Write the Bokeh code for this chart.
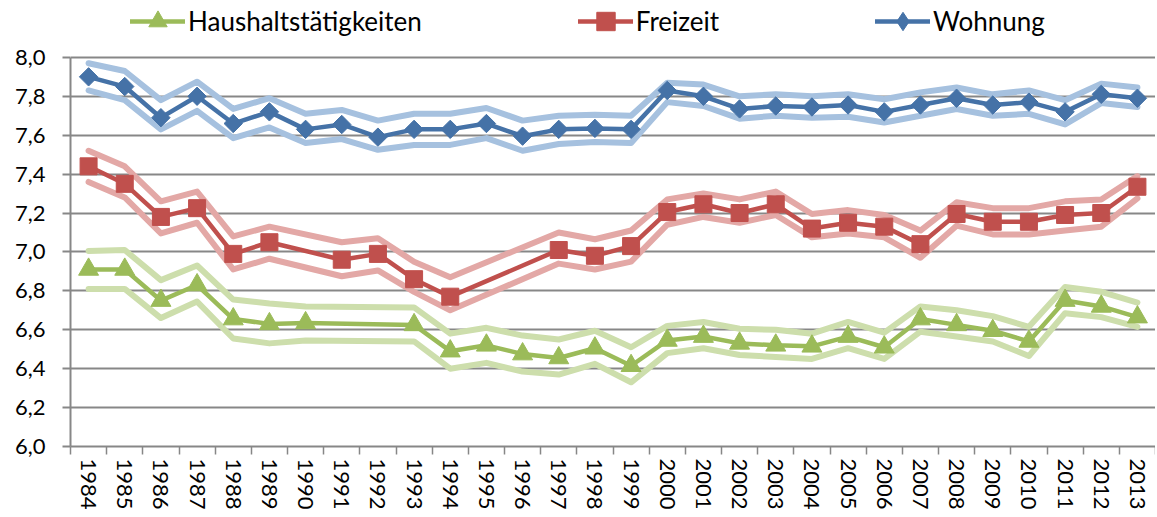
import math
from bokeh.plotting import figure
from bokeh.models import (Legend, LegendItem, FixedTicker, CustomJSTickFormatter,
                          Range1d, LinearAxis)
from bokeh.embed import file_html
from bokeh.resources import INLINE

years = list(range(1984, 2014))

wohnung = [7.90, 7.85, 7.69, 7.80, 7.66, 7.72, 7.63, 7.655, 7.59, 7.63, 7.63, 7.66, 7.595, 7.63, 7.635,
           7.63, 7.83, 7.80, 7.735, 7.75, 7.745, 7.755, 7.72, 7.755, 7.79, 7.755, 7.77, 7.72, 7.81, 7.79]
wohnung_hi = [7.97, 7.93, 7.78, 7.875, 7.735, 7.79, 7.71, 7.73, 7.675, 7.71, 7.71, 7.74, 7.675, 7.70, 7.705,
              7.70, 7.87, 7.86, 7.80, 7.81, 7.80, 7.81, 7.785, 7.82, 7.845, 7.81, 7.83, 7.78, 7.865, 7.845]
wohnung_lo = [7.83, 7.78, 7.63, 7.725, 7.585, 7.64, 7.56, 7.58, 7.525, 7.55, 7.55, 7.585, 7.52, 7.555, 7.565,
              7.56, 7.77, 7.75, 7.685, 7.70, 7.69, 7.695, 7.665, 7.70, 7.735, 7.70, 7.71, 7.655, 7.765, 7.745]

freizeit = [7.44, 7.35, 7.18, 7.225, 6.99, 7.05, None, 6.96, 6.99, 6.86, 6.77, None, None, 7.01, 6.98,
            7.03, 7.205, 7.245, 7.20, 7.245, 7.12, 7.15, 7.13, 7.04, 7.195, 7.155, 7.155, 7.19, 7.20, 7.335]
freizeit_hi = [7.52, 7.44, 7.26, 7.31, 7.08, 7.13, None, 7.05, 7.07, 6.95, 6.87, None, None, 7.10, 7.065,
               7.11, 7.27, 7.30, 7.27, 7.31, 7.195, 7.215, 7.19, 7.11, 7.255, 7.225, 7.225, 7.26, 7.27, 7.39]
freizeit_lo = [7.36, 7.28, 7.095, 7.15, 6.91, 6.965, None, 6.875, 6.905, 6.795, 6.70, None, None, 6.94, 6.91,
               6.95, 7.14, 7.18, 7.15, 7.19, 7.075, 7.095, 7.075, 6.97, 7.135, 7.09, 7.09, 7.11, 7.13, 7.275]

haushalt = [6.91, 6.91, 6.75, 6.83, 6.655, 6.63, 6.635, None, None, 6.625, 6.49, 6.52, 6.475, 6.455, 6.505,
            6.415, 6.545, 6.565, 6.53, 6.52, 6.515, 6.565, 6.51, 6.655, 6.625, 6.595, 6.54, 6.75, 6.72, 6.665]
haushalt_hi = [7.005, 7.01, 6.855, 6.93, 6.755, 6.735, 6.72, None, None, 6.715, 6.58, 6.61, 6.57, 6.55, 6.595,
               6.51, 6.62, 6.64, 6.605, 6.60, 6.58, 6.64, 6.585, 6.72, 6.70, 6.67, 6.615, 6.82, 6.795, 6.74]
haushalt_lo = [6.81, 6.81, 6.66, 6.745, 6.555, 6.53, 6.545, None, None, 6.54, 6.40, 6.43, 6.385, 6.37, 6.425,
               6.33, 6.48, 6.505, 6.47, 6.46, 6.45, 6.505, 6.45, 6.59, 6.565, 6.54, 6.465, 6.685, 6.665, 6.615]

y_ticks = [6.0, 6.2, 6.4, 6.6, 6.8, 7.0, 7.2, 7.4, 7.6, 7.8, 8.0]

FONT = "Lato"
GRID = "#878787"

# layout: plot area 390 px for the 6,0..8,0 span, 57 px of headroom for the legend
PLOT_H = 390
HEAD = 57
y_top = y_ticks[-1] + (y_ticks[-1] - y_ticks[0]) * HEAD / PLOT_H


def present(vals):
    xs = [y for y, v in zip(years, vals) if v is not None]
    ys = [v for v in vals if v is not None]
    return xs, ys


p = figure(width=1155, height=512, output_backend="svg", toolbar_location=None,
           x_range=Range1d(years[0] - 0.5, years[-1] + 0.5),
           y_range=Range1d(y_ticks[0], y_top),
           x_axis_location=None,
           min_border_left=70, min_border_right=0, min_border_top=0, min_border_bottom=65)
p.outline_line_color = None

# grid
p.xgrid.grid_line_color = None
p.ygrid.ticker = FixedTicker(ticks=y_ticks)
p.ygrid.grid_line_color = GRID
p.ygrid.grid_line_width = 2

# y axis
p.yaxis.ticker = FixedTicker(ticks=y_ticks)
p.yaxis.bounds = (y_ticks[0], y_ticks[-1])
p.yaxis.formatter = CustomJSTickFormatter(code="return tick.toFixed(1).replace('.', ',');")
p.yaxis.axis_line_color = GRID
p.yaxis.axis_line_width = 2
p.yaxis.major_tick_line_color = GRID
p.yaxis.major_tick_line_width = 2
p.yaxis.major_tick_out = 8
p.yaxis.major_tick_in = 0
p.yaxis.minor_tick_line_color = None
p.yaxis.major_label_standoff = 17
p.yaxis.major_label_text_font = FONT
p.yaxis.major_label_text_font_size = "22px"
p.yaxis.major_label_text_color = "black"

# x axis: tick marks between the years
bounds = [y - 0.5 for y in years] + [years[-1] + 0.5]
x_ticks_axis = LinearAxis(ticker=FixedTicker(ticks=bounds),
                          formatter=CustomJSTickFormatter(code="return '';"))
x_ticks_axis.axis_line_color = GRID
x_ticks_axis.axis_line_width = 2
x_ticks_axis.major_tick_line_color = GRID
x_ticks_axis.major_tick_line_width = 1.5
x_ticks_axis.major_tick_out = 8
x_ticks_axis.major_tick_in = 0
x_ticks_axis.minor_tick_line_color = None
x_ticks_axis.major_label_standoff = 0
x_ticks_axis.major_label_text_font_size = "1px"
p.add_layout(x_ticks_axis, "below")

# x axis: year labels
x_lab_axis = LinearAxis(ticker=FixedTicker(ticks=years))
x_lab_axis.axis_line_color = None
x_lab_axis.major_tick_line_color = None
x_lab_axis.minor_tick_line_color = None
x_lab_axis.major_tick_out = 0
x_lab_axis.major_tick_in = 0
x_lab_axis.major_label_orientation = "vertical"
x_lab_axis.major_label_standoff = 4
x_lab_axis.major_label_text_font = FONT
x_lab_axis.major_label_text_font_size = "22px"
x_lab_axis.major_label_text_color = "black"
p.add_layout(x_lab_axis, "below")

series = [
    ("Haushaltstätigkeiten", haushalt, haushalt_hi, haushalt_lo, "#9BBB59", "#CDDEAC", "triangle", 20, 0),
    ("Freizeit", freizeit, freizeit_hi, freizeit_lo, "#C0504D", "#E3A8A6", "square", 17, 0),
    ("Wohnung", wohnung, wohnung_hi, wohnung_lo, "#4572A7", "#A6C1DF", "diamond", 13, math.pi / 4),
]

# confidence bands first
for name, main, hi, lo, col, light, mk, sz, ang in series:
    for band in (hi, lo):
        xs, ys = present(band)
        p.line(xs, ys, line_color=light, line_width=6, line_join="round", line_cap="round")

items = []
for name, main, hi, lo, col, light, mk, sz, ang in series:
    xs, ys = present(main)
    r1 = p.line(xs, ys, line_color=col, line_width=4.5, line_join="round", line_cap="round")
    if mk == "diamond":
        # diamond glyph (used by the legend) hidden underneath the rotated squares
        r2 = p.scatter(xs, ys, marker="diamond", size=sz + 3, fill_color=col, line_color=col)
        p.scatter(xs, ys, marker="square", size=sz, angle=ang, fill_color=col, line_color=col)
    else:
        r2 = p.scatter(xs, ys, marker=mk, size=sz, angle=ang, fill_color=col, line_color=col)
    items.append(LegendItem(label=name, renderers=[r1, r2]))

legend = Legend(items=items, orientation="horizontal", location=(60, PLOT_H + HEAD - 45))
legend.glyph_width = 55
legend.glyph_height = 46
legend.label_standoff = 3
legend.spacing = 156
legend.padding = 0
legend.margin = 0
legend.border_line_color = None
legend.background_fill_alpha = 0
legend.label_text_font = FONT
legend.label_text_font_size = "26px"
legend.label_text_color = "black"
p.add_layout(legend, "center")

open("out.html", "w").write(file_html(p, INLINE))
